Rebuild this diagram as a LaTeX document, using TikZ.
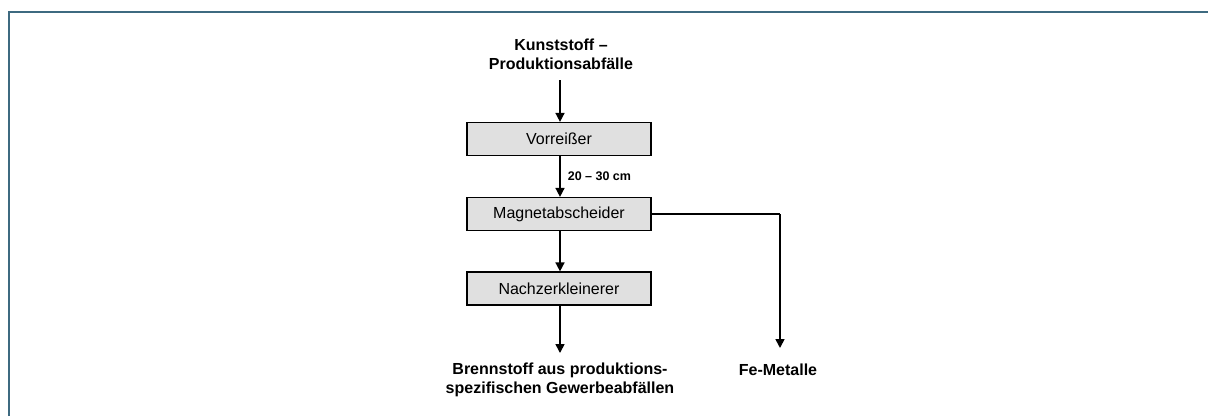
\documentclass[tikz,border=0pt]{standalone}
\usepackage{fontspec}
\setmainfont{Liberation Sans}
\usetikzlibrary{arrows.meta}
\definecolor{framecol}{HTML}{3E6A80}
\definecolor{boxfill}{HTML}{E0E0E0}
\begin{document}
\begin{tikzpicture}[x=1pt,y=-1pt,
  stepbox/.style={draw=black,line width=1.2pt,fill=boxfill,minimum width=184pt,minimum height=33pt,inner sep=0pt,font=\fontsize{16}{19}\selectfont},
  flow/.style={draw=black,line width=1.6pt,-{Triangle[length=9pt,width=9pt]}},
  plain/.style={draw=black,line width=1.6pt},
  lbl/.style={align=center,font=\bfseries\fontsize{16}{19}\selectfont,inner sep=0pt},
  small/.style={font=\bfseries\fontsize{12.5}{14}\selectfont,inner sep=0pt,anchor=west}]
\useasboundingbox (0,0) rectangle (1208,416);
% frame lines
\draw[framecol,line width=2.2pt] (9,416) -- (9,12) -- (1208,12);
% nodes
\node[lbl] (src) at (561,54) {Kunststoff --\\Produktionsabfälle};
\node[stepbox] (vor) at (559,139) {Vorreißer};
\node[stepbox] (mag) at (559,214) {Magnetabscheider};
\node[stepbox] (nach) at (559,288.5) {Nachzerkleinerer};
\node[lbl] (fuel) at (560,380) {Brennstoff aus produktions-\\spezifischen Gewerbeabfällen};
\node[lbl] (fe) at (778,370) {Fe-Metalle};
\coordinate (srcend) at (560,80);
\coordinate (fuelend) at (560,353);
\coordinate (corner) at (780,214);
\coordinate (feend) at (780,348);
% connectors
\draw[flow] (srcend) -- (vor.north -| srcend);
\draw[flow] (vor.south -| srcend) -- node[small,right=7pt] {20 -- 30 cm} (mag.north -| srcend);
\draw[flow] (mag.south -| srcend) -- (nach.north -| srcend);
\draw[flow] (nach.south -| srcend) -- (fuelend);
\draw[plain] (mag.east) -- (corner);
\draw[flow] (corner) -- (feend);
\end{tikzpicture}
\end{document}
